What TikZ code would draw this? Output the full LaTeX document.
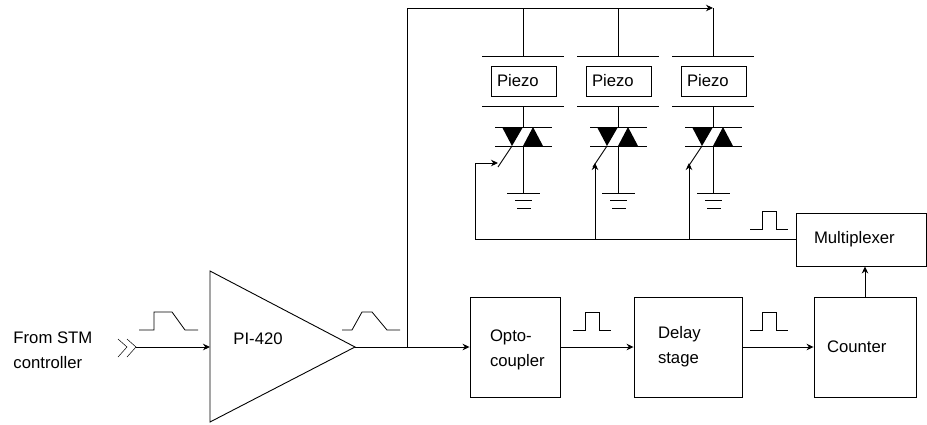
\documentclass[tikz,border=0pt]{standalone}
\usepackage{fontspec}
\setmainfont{Liberation Sans}
\usetikzlibrary{arrows.meta}
\tikzset{every picture/.style={line width=0.9pt}}
\tikzset{
  block/.style 2 args={draw, text width=#1, inner xsep=#2, inner ysep=0pt, align=left},
  caption/.style={inner sep=0pt, align=left, anchor=west},
  pulse/.style={line width=0.8pt}
}

\begin{document}
\begin{tikzpicture}[x=1pt, y=-1pt, >={Stealth[length=7pt,width=6.5pt]},
    every node/.style={font=\fontsize{16.7}{25}\selectfont}]
    \useasboundingbox (0,0) rectangle (927,424);
    % amplifier
    \coordinate (ampin) at (210,347);
    \coordinate (amptip) at (355,347);
    \draw (210,271) -- (amptip) -- (210,422) -- cycle;
    \node[caption] (amplabel) at (233,339) {PI-420};
    \node[caption] (source) at (13,350) {From STM\\controller};
    % blocks
    \node[block={50pt}{20pt}, minimum height=100pt] (opto) at (515,347) {\rule{0pt}{18pt}Opto-\\coupler};
    \node[block={60pt}{24pt}, minimum height=100pt] (delay) at (688,347) {Delay\\stage};
    \node[block={76pt}{13pt}, minimum height=100pt] (counter) at (865,347) {Counter};
    \node[block={94pt}{18pt}, minimum height=53pt] (mux) at (861,239.5) {Multiplexer};
    % input plug
    \coordinate (plug) at (136,347);
    \draw[line width=0.5pt] (118,339) -- (127,347) -- (118,357);
    \draw[line width=0.5pt] (127,339) -- (136,347) -- (127,357);
    \draw[->] (plug) -- (ampin);
    % signal path
    \coordinate (branch) at (407,347);
    \coordinate (corner) at (407,8);
    \coordinate (feed) at (713,8);
    \draw[->] (amptip) -- (opto.west);
    \draw[->] (branch) -- (corner) -- (feed);
    \draw[->] (opto.east) -- (delay.west);
    \draw[->] (delay.east) -- (counter.west);
    \draw[->] (counter.north) -- (counter.north |- mux.south);
    % piezo channels
    \foreach \px/\i in {523/1,618/2,713/3} {
        \begin{scope}[shift={(\px,0)}]
            \coordinate (rail\i) at (0,8);
            \coordinate (plate\i) at (0,56);
            \coordinate (low\i) at (0,106);
            \coordinate (triactop\i) at (0,127);
            \coordinate (triacbot\i) at (0,146);
            \coordinate (earth\i) at (0,193);
            \node[block={53pt}{6pt}, minimum height=30pt] (piezo\i) at (0.5,81) {Piezo};
            \draw (rail\i) -- (plate\i);
            \draw (-41,56) -- (41,56);
            \draw (-41,106) -- (41,106);
            \draw (low\i) -- (triactop\i);
            \draw (-28,127) -- (29,127);
            \draw (-28,146) -- (29,146);
            \fill (-21,127) -- (0,127) -- (-11,146) -- cycle;
            \fill (0,146) -- (20,146) -- (10,127) -- cycle;
            \draw (triacbot\i) -- (earth\i);
            \draw (-16,193) -- (17,193);
            \draw (-8,200) -- (9,200);
            \draw (-6,208) -- (8,208);
            \draw (-11,146) -- (-25,167);
        \end{scope}
    }
    % gate lines
    \coordinate (busleft) at (475,239.5);
    \coordinate (bustwo) at (595,239.5);
    \coordinate (busthree) at (689,239.5);
    \coordinate (gateone) at (498,163);
    \coordinate (gatetwo) at (595,163);
    \coordinate (gatethree) at (689,163);
    \draw (mux.west) -- (busleft);
    \draw[->] (busleft) -- (busleft |- gateone) -- (gateone);
    \draw[->] (bustwo) -- (gatetwo);
    \draw[->] (busthree) -- (gatethree);
    % pulses
    \draw[pulse] (139,330) -- (154,330) -- (154,312) -- (172,312) -- (185,330) -- (198,330);
    \draw[pulse] (342,330) -- (352,330) -- (362,312) -- (372,312) -- (387,330) -- (400,330);
    \foreach \qx/\qy in {573/330,750/330,750/229} {
        \draw[pulse] (\qx,\qy) -- ++(12,0) -- ++(0,-18) -- ++(14,0) -- ++(0,18) -- ++(12,0);
    }
\end{tikzpicture}
\end{document}
